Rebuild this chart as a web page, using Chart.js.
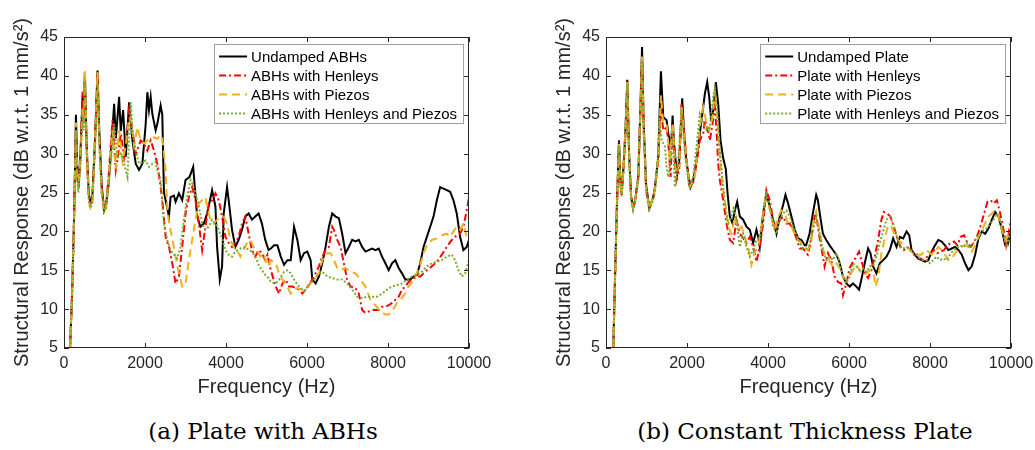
<!DOCTYPE html>
<html>
<head>
<meta charset="utf-8">
<script src="https://cdn.jsdelivr.net/npm/chart.js@4.4.1/dist/chart.umd.min.js"></script>
<style>
  body { margin: 0; background: #fff; width: 1035px; height: 450px; position: relative; overflow: hidden; }
  canvas { position: absolute; top: 0; }
  .caption { position: absolute; top: 418px; font: 23px "DejaVu Serif", "Liberation Serif", serif; color: #000; text-align: center; white-space: nowrap; }
</style>
</head>
<body>
<canvas id="abhChart" width="517" height="400" style="left:0px"></canvas>
<canvas id="plateChart" width="517" height="400" style="left:542px"></canvas>
<div class="caption" style="left:83px; width:360px">(a) Plate with ABHs</div>
<div class="caption" style="left:605px; width:400px">(b) Constant Thickness Plate</div>
<script>
// frequency (Hz), response (dB) pairs
const abhUndamped = [[150,5],[200,12],[250,22],[295,35],[330,28],[355,25.7],[400,29],[460,37.5],[490,34],[515,40.5],[560,31],[610,25],[650,23.6],[700,24.5],[760,31],[828,40.7],[870,33],[930,26],[990,22.7],[1040,23.5],[1100,26],[1156,30],[1238,36.4],[1280,32],[1361,37.3],[1400,32.9],[1460,35.6],[1525,29.6],[1607,36.6],[1690,31.7],[1771,28.7],[1853,27.9],[1935,28.7],[2017,33.8],[2058,37.9],[2099,35.6],[2140,37.3],[2181,35.1],[2263,33],[2304,33.8],[2386,36.2],[2427,35],[2468,25],[2509,24],[2591,21.9],[2632,24.4],[2714,24.6],[2755,23.8],[2837,24.9],[2919,24],[3001,26.6],[3100,27],[3190,28.3],[3240,25],[3288,21.9],[3370,20.6],[3452,21],[3534,22.3],[3657,25.3],[3739,23.2],[3780,18],[3846,13.8],[3903,15.5],[3944,22.3],[4026,25.7],[4067,24],[4149,20.2],[4231,18],[4313,18.9],[4395,20.2],[4477,21.9],[4559,22.3],[4641,21.5],[4723,21.9],[4805,22.3],[4887,21],[4969,18.9],[5051,17.6],[5107,17.8],[5188,18.2],[5270,18.2],[5352,16.75],[5434,15.7],[5516,16.3],[5598,16.3],[5680,20.6],[5762,18.9],[5844,16.3],[5926,17.2],[6008,17.4],[6090,16.3],[6131,13.8],[6213,13.3],[6295,14.2],[6377,15.9],[6459,18],[6541,20.6],[6623,22.3],[6705,21.9],[6787,21.7],[6869,19.7],[6951,17.2],[7033,18],[7115,18.9],[7197,18.7],[7279,18.9],[7361,18],[7443,17.4],[7525,17.6],[7607,17.8],[7689,17.6],[7771,17.8],[7853,16.75],[7935,15.9],[8017,15],[8099,15.9],[8181,16.3],[8263,15.3],[8345,14.6],[8427,13.8],[8550,13.8],[8632,14.2],[8714,14.4],[8796,15.9],[8878,18],[8960,19.3],[9042,20.6],[9124,21.9],[9206,24],[9288,25.7],[9370,25.5],[9452,25.3],[9534,25.1],[9616,24],[9698,22.3],[9780,19.3],[9862,17.6],[9944,18],[10000,18.9]];
const abhHenleys = [[150,5],[200,12],[250,22],[295,33.5],[330,27],[355,25.5],[400,29],[460,38],[490,34],[515,40],[560,30],[610,24.5],[650,23.5],[700,24],[760,31],[828,40.3],[870,32],[930,25.5],[990,23],[1040,23.5],[1100,27],[1197,34.3],[1279,27.9],[1340,30],[1402,32.6],[1484,29.6],[1566,33],[1607,35.6],[1689,33],[1771,29.9],[1894,31.7],[1976,31.3],[2058,30.4],[2140,31.7],[2222,30.4],[2304,28.7],[2386,25.7],[2427,24],[2509,19.3],[2591,18],[2673,15.9],[2755,13.3],[2837,14.2],[2919,18],[3001,22.3],[3083,24.4],[3165,25.7],[3247,24],[3329,21],[3411,17.6],[3493,20.6],[3575,23.6],[3657,24],[3739,24.9],[3821,24],[3903,21.9],[3985,19.3],[4067,18.5],[4149,18],[4231,18.5],[4313,19.3],[4395,21],[4477,21.9],[4559,19.7],[4641,17.6],[4723,16.75],[4805,17.6],[4887,17.2],[4969,16.3],[5025,17],[5107,15],[5229,12.9],[5311,12],[5393,13.3],[5475,13.8],[5557,12.9],[5639,12.9],[5721,12.7],[5803,12.5],[5885,12],[5967,12.5],[6049,13.1],[6172,14.2],[6295,15.5],[6377,16.75],[6459,17.6],[6541,18],[6623,20.6],[6664,20.2],[6746,18.9],[6828,18],[6910,15.9],[6992,13.8],[7074,12.9],[7197,12.7],[7279,12],[7361,9.9],[7443,9.5],[7525,9.7],[7648,9.9],[7771,9.9],[7853,10.3],[7935,10.3],[8017,10.5],[8099,10.8],[8181,11.2],[8263,11.6],[8345,12.5],[8427,12.9],[8509,13.5],[8591,13.8],[8714,14.2],[8796,14.2],[8878,14.6],[8960,15],[9083,15.5],[9206,16.1],[9329,17],[9452,18],[9575,18.9],[9698,19.5],[9780,19.7],[9862,20.6],[9944,22.7],[10000,24.4]];
const abhPiezos = [[150,5],[200,12],[250,22],[295,34],[330,27],[355,25.5],[400,29],[460,36],[490,34],[517,40.7],[560,31],[610,24],[650,23],[700,23.5],[760,31],[828,40.5],[870,32],[930,25],[990,22.5],[1040,23],[1100,26.5],[1197,33],[1279,28],[1361,33],[1443,29],[1525,31],[1607,34.5],[1648,34.7],[1730,31],[1812,33.4],[1894,31.7],[1976,31.3],[2099,31.9],[2222,32.1],[2304,31.9],[2386,32.4],[2427,32.1],[2509,27.9],[2550,23],[2591,21.2],[2673,19.1],[2755,16.75],[2837,14.6],[2919,12.9],[3001,13.3],[3083,16.3],[3165,18.9],[3247,21.5],[3329,23.6],[3411,24],[3493,24.4],[3534,23.2],[3616,21.5],[3698,21],[3780,21.5],[3862,21.7],[3944,21.9],[4026,21],[4108,18.9],[4190,18],[4272,17.6],[4354,16.75],[4436,17.6],[4518,18.5],[4600,18.9],[4682,18],[4764,17.6],[4846,16.75],[4928,17.2],[5025,15.5],[5107,16.3],[5229,15.9],[5311,14.6],[5393,13.8],[5475,13.3],[5598,12],[5680,12.5],[5762,12.7],[5885,12.5],[5967,12.9],[6049,13.1],[6172,13.8],[6295,14.6],[6377,16.3],[6500,17.2],[6582,17.2],[6664,16.3],[6746,15.3],[6828,15],[6951,15.3],[7074,14.8],[7197,14.6],[7320,13.8],[7443,12.9],[7566,11.2],[7689,10.5],[7812,9.7],[7935,9.3],[8017,9.3],[8099,9.7],[8222,10.8],[8304,11.2],[8427,12],[8509,12.9],[8591,13.5],[8673,14.2],[8796,15.7],[8878,17.2],[8960,18.2],[9083,18.9],[9206,19.1],[9329,19.5],[9452,19.7],[9534,19.3],[9616,20],[9698,20.6],[9780,20.2],[9862,21],[9944,19.3],[10000,19.7]];
const abhBoth = [[150,5],[200,12],[250,21],[295,33],[330,26.5],[355,25],[400,28],[460,35],[490,33],[517,39.4],[560,30],[610,24],[650,23],[700,23.5],[760,30],[828,39],[870,31],[930,25],[990,22.5],[1040,23],[1100,26],[1156,29],[1238,33.8],[1320,29.4],[1402,30],[1484,28.7],[1566,27],[1648,36.6],[1689,33],[1771,30.4],[1853,28.7],[1935,28.9],[2017,29.1],[2099,28.3],[2181,28.7],[2263,28.9],[2304,27.9],[2386,26.6],[2468,21],[2550,18.9],[2632,17.6],[2714,17],[2796,16.5],[2878,18],[2960,21.5],[3042,24.4],[3124,26.6],[3165,26.2],[3247,24.9],[3329,23.2],[3411,21],[3493,20.2],[3575,20.6],[3657,21.5],[3739,21],[3821,20.2],[3903,19.1],[3985,17.6],[4067,17],[4149,16.75],[4231,17.4],[4354,17.8],[4477,18],[4559,17.6],[4641,17.4],[4723,16.75],[4805,15.7],[4887,15],[4969,14.4],[5050,14],[5107,13.5],[5229,13.3],[5311,13.8],[5434,14.8],[5516,15],[5598,14.6],[5680,13.8],[5803,12.9],[5926,12.3],[6049,13.1],[6172,13.8],[6295,14.6],[6377,14.8],[6500,14.2],[6623,14],[6746,13.8],[6869,13.8],[6992,13.3],[7115,12.5],[7238,11.6],[7361,11.4],[7484,11.6],[7607,11.6],[7730,11.6],[7853,12],[7976,12.5],[8099,12.9],[8222,13.1],[8345,13.3],[8468,13.8],[8591,14.2],[8714,14.4],[8837,14.8],[8960,15.5],[9083,15.9],[9206,16.1],[9329,16.3],[9452,16.75],[9575,17],[9657,16.3],[9739,15],[9821,14.2],[9903,14.6],[10000,16.3]];

const plateUndamped = [[180,5],[222,13.8],[263,22.3],[320,31.7],[360,26],[386,24.9],[430,28],[480,33],[526,39.5],[570,30],[620,24.5],[670,23],[720,24],[797,27],[850,36],[890,43.7],[930,34],[990,26],[1069,23],[1167,24.4],[1208,25.7],[1290,29.6],[1356,40.6],[1414,34.7],[1455,34.5],[1496,34.3],[1537,32.6],[1578,31.5],[1619,32],[1644,34.9],[1677,31.5],[1726,28.7],[1759,27.4],[1808,29.1],[1882,37.1],[1923,33],[1973,29.6],[2030,27.4],[2088,25.7],[2154,26.6],[2236,29.1],[2318,32.6],[2400,36],[2441,37.7],[2499,39.2],[2548,37.3],[2589,34.7],[2647,35.5],[2713,39.2],[2770,36.4],[2828,31.7],[2894,29.4],[2959,28],[3000,25],[3058,21.9],[3124,21],[3181,22.7],[3239,23.8],[3305,21.9],[3387,21.5],[3469,20.6],[3551,20.2],[3633,18.5],[3715,20.2],[3756,19.3],[3797,18],[3880,22.3],[3962,24.9],[4044,23.2],[4126,21.5],[4209,19.7],[4291,21.9],[4373,23.4],[4431,24.7],[4496,23.6],[4579,21.9],[4661,20.2],[4743,19.1],[4825,18.9],[4907,18.2],[4942,18.2],[5025,19.7],[5108,22.3],[5190,24.7],[5232,24],[5290,21.9],[5356,19.7],[5438,18.9],[5521,18.2],[5603,17.6],[5686,17],[5768,16],[5851,14.2],[5934,13.3],[6017,12.9],[6099,13.3],[6182,12.9],[6248,12.5],[6306,13.8],[6388,15.9],[6471,17.8],[6529,17.2],[6595,15.5],[6677,14.6],[6760,15.9],[6843,16.3],[6925,16.75],[7008,17.6],[7090,19.1],[7173,18],[7256,19.3],[7338,19.1],[7421,20],[7487,19.5],[7545,17.6],[7628,17],[7710,16.5],[7793,16.3],[7875,16.1],[7958,16.3],[8040,17.4],[8123,18.2],[8205,18.9],[8288,18.7],[8371,18.2],[8453,17.6],[8536,17.8],[8618,18],[8701,17.6],[8784,17],[8866,15.9],[8949,15],[9031,15.5],[9114,17],[9197,19.1],[9279,20],[9362,19.7],[9444,20.4],[9527,21.5],[9610,22.5],[9692,21.9],[9775,20.2],[9858,18.2],[9916,18.2],[10000,20.2]];
const plateHenleys = [[180,5],[222,13.8],[263,22],[320,31.5],[360,26],[386,24.7],[430,28],[480,32.5],[526,39],[570,30],[620,24.3],[670,23],[720,24],[797,27],[850,35.5],[890,42.4],[930,33],[990,25.5],[1069,23],[1167,24.4],[1208,25.5],[1290,29],[1356,36],[1414,33],[1496,33.4],[1537,31.7],[1595,27],[1644,33.6],[1701,28.7],[1742,26.6],[1808,27.9],[1866,36.4],[1907,34.3],[1973,30],[2055,25.7],[2154,26.3],[2236,28.7],[2318,31.7],[2400,32.6],[2441,34.3],[2499,33.4],[2565,31.7],[2630,33.8],[2688,36],[2729,33],[2770,28.7],[2811,26.6],[2894,24],[2976,21],[3058,18.9],[3140,18.5],[3222,21.5],[3305,19.7],[3387,19.1],[3469,18.5],[3551,19.3],[3633,18],[3715,16.1],[3797,18],[3880,21],[3962,25.3],[4044,24],[4126,21.5],[4209,20.2],[4291,21.5],[4373,21.9],[4455,21],[4537,21],[4620,20.2],[4702,19.1],[4784,17.8],[4866,17.8],[4948,17.2],[4984,17],[5066,18.9],[5149,21.9],[5190,22.3],[5256,19.7],[5314,18],[5397,15.5],[5480,17.2],[5562,16.3],[5645,14.2],[5727,13.5],[5810,13.3],[5851,11.8],[5934,13.3],[6017,15.3],[6099,16.1],[6182,16.75],[6248,17.4],[6306,16.3],[6388,14.6],[6471,14],[6553,15],[6636,16.75],[6719,18.9],[6801,21.5],[6859,22.5],[6942,22.3],[7024,21.9],[7107,20.6],[7189,19.1],[7272,18],[7355,17.6],[7437,18],[7520,17.6],[7602,17],[7685,16.75],[7768,16.5],[7850,16.3],[7933,16.75],[8016,17.2],[8098,17.6],[8181,17.2],[8263,17.4],[8346,17.6],[8428,18.2],[8511,18.5],[8594,18.7],[8676,18.2],[8759,19.3],[8841,19.5],[8924,18.5],[9007,18],[9089,18.7],[9172,19.5],[9254,20.8],[9337,22.3],[9420,23.8],[9502,24],[9568,23.6],[9651,24],[9734,22.3],[9816,20.2],[9882,18.2],[9940,19.7],[10000,21.5]];
const platePiezos = [[180,5],[222,13.8],[263,22],[320,31.5],[360,26],[386,24.7],[430,28],[480,33],[526,39.3],[570,30],[620,24.3],[670,23],[720,24],[797,27],[850,36],[890,42.5],[930,33.5],[990,25.5],[1069,23],[1167,24.4],[1208,25.5],[1290,29.5],[1356,37.5],[1414,34],[1496,33.8],[1578,29],[1644,34],[1726,27.4],[1808,28.5],[1866,36],[1990,29],[2071,25.7],[2194,27],[2318,33.4],[2400,36],[2466,34.3],[2548,33],[2630,34.7],[2688,38.1],[2746,34.7],[2811,29.6],[2894,25.3],[2935,24],[3017,20.6],[3099,19.7],[3181,21.9],[3264,20.2],[3346,20.6],[3428,19.3],[3510,18],[3592,15.7],[3674,17.4],[3756,18],[3838,20.6],[3921,24],[4003,23.6],[4085,21.9],[4167,20.2],[4250,21.9],[4332,22.7],[4414,22.3],[4496,21],[4579,20.6],[4661,19.7],[4743,18.9],[4825,18.5],[4907,18],[4984,17.6],[5066,18.5],[5108,21],[5190,22.5],[5273,20.2],[5356,17.6],[5438,16.75],[5521,16.1],[5603,15.5],[5686,15.9],[5768,15.3],[5851,14.2],[5934,13.8],[6017,14.4],[6099,15],[6182,15.7],[6265,15],[6347,14.4],[6430,14.6],[6512,15],[6595,14.8],[6661,12.9],[6719,14],[6801,17.2],[6884,19.1],[6966,20.8],[7049,20.6],[7132,19.5],[7214,18.9],[7297,18.5],[7380,18.3],[7462,17.8],[7545,17.4],[7627,17.2],[7710,17],[7793,17],[7875,17.6],[7958,17.4],[8040,17],[8123,17.4],[8205,18],[8288,17.6],[8371,17],[8453,16.3],[8536,16.5],[8618,17.2],[8701,17.6],[8784,18],[8866,18.2],[8949,18],[9031,17.4],[9114,18.2],[9197,19.3],[9279,20.2],[9362,21],[9444,21.9],[9527,22.3],[9610,22.7],[9692,21.9],[9775,20.2],[9858,18.9],[9940,19.7],[10000,20.6]];
const plateBoth = [[180,5],[222,13.5],[263,21.5],[320,31],[360,25.8],[386,24.5],[430,27.5],[480,32.5],[526,39],[570,29.5],[620,24],[670,22.7],[720,23.8],[797,26.5],[850,35],[890,42],[930,33],[990,25],[1069,22.8],[1167,24],[1208,25],[1290,30],[1315,34.7],[1374,31.7],[1455,30.9],[1496,28.3],[1537,27],[1578,28.7],[1644,33],[1701,25.7],[1759,27.4],[1866,35.6],[1948,30],[2055,25.7],[2154,27],[2236,30.9],[2318,35.1],[2400,34.3],[2482,33],[2565,33.4],[2647,37.3],[2688,38.3],[2746,35.6],[2811,30.4],[2894,25.7],[2935,23.6],[3017,21],[3099,21.9],[3157,23.2],[3222,21.5],[3305,18],[3387,19.7],[3469,18],[3551,16.75],[3633,17.6],[3715,18.9],[3797,19.3],[3880,22.3],[3962,24.7],[4044,23.2],[4126,20.6],[4209,19.7],[4291,21.5],[4373,22.3],[4455,22.7],[4537,21.9],[4620,20.6],[4702,19.5],[4784,18.5],[4866,17.8],[4948,17.8],[5025,18.2],[5108,20.2],[5190,21.7],[5273,19.7],[5356,17.6],[5438,16.3],[5521,16.75],[5603,16.3],[5686,17.2],[5768,16],[5851,14.2],[5934,13.3],[6017,14.2],[6099,15.9],[6182,15.5],[6265,15],[6347,15.2],[6430,14.8],[6512,15.5],[6595,15.5],[6677,16.75],[6760,18.5],[6843,20],[6925,21.5],[7008,21.9],[7090,21],[7173,19.5],[7256,18],[7338,17.8],[7421,18],[7503,17.6],[7586,17.2],[7669,17],[7751,16.5],[7834,16.3],[7916,16.3],[7999,15.9],[8081,16.3],[8164,16.75],[8247,16.3],[8329,16.5],[8412,16.3],[8494,17],[8577,17.6],[8659,17.8],[8742,18.2],[8825,18],[8908,18.5],[8990,17.8],[9073,18.5],[9155,19.3],[9238,19.7],[9320,20.2],[9403,20.4],[9486,21],[9568,21.5],[9651,22.3],[9734,21.5],[9816,19.5],[9899,18],[9957,19.1],[10000,20.2]];

const abhLabels = ['Undamped ABHs', 'ABHs with Henleys', 'ABHs with Piezos', 'ABHs with Henleys and Piezos'];
const plateLabels = ['Undamped Plate', 'Plate with Henleys', 'Plate with Piezos', 'Plate with Henleys and Piezos'];
const xTicks = [0, 2000, 4000, 6000, 8000, 10000];
const yTicks = [5, 10, 15, 20, 25, 30, 35, 40, 45];

const seriesStyle = [
    { borderColor: '#000000', borderWidth: 2, borderDash: [], order: 4 },
    { borderColor: '#ff0000', borderWidth: 2, borderDash: [7, 3, 2, 3], order: 3 },
    { borderColor: '#edb120', borderWidth: 2, borderDash: [8, 5], order: 2 },
    { borderColor: '#77ac30', borderWidth: 2, borderDash: [2, 2], order: 1 }
];

const axisColor = '#262626';
const sansFont = '"Liberation Sans", Arial, Helvetica, sans-serif';

// MATLAB-like box with inward ticks on every side
const boxTicks = {
    id: 'boxTicks',
    afterDraw(chart) {
        const { ctx, chartArea: a, scales: { x, y } } = chart;
        ctx.save();
        ctx.strokeStyle = axisColor;
        ctx.lineWidth = 1;
        ctx.strokeRect(a.left + 0.5, a.top + 0.5, a.right - a.left - 1, a.bottom - a.top - 1);
        ctx.beginPath();
        xTicks.forEach(v => {
            const px = Math.round(x.getPixelForValue(v)) + 0.5;
            ctx.moveTo(px, a.bottom); ctx.lineTo(px, a.bottom - 5);
            ctx.moveTo(px, a.top); ctx.lineTo(px, a.top + 5);
        });
        yTicks.forEach(v => {
            const py = Math.round(y.getPixelForValue(v)) + 0.5;
            ctx.moveTo(a.left, py); ctx.lineTo(a.left + 5, py);
            ctx.moveTo(a.right, py); ctx.lineTo(a.right - 5, py);
        });
        ctx.stroke();
        ctx.restore();
    }
};

// legend box in the top right corner, with line samples
const boxLegend = {
    id: 'boxLegend',
    afterDatasetsDraw(chart) {
        const { ctx, chartArea: a } = chart;
        const sets = chart.data.datasets;
        ctx.save();
        ctx.font = '15px ' + sansFont;
        const textW = Math.max(...sets.map(d => ctx.measureText(d.label).width));
        const w = 5 + 28 + 4 + textW + 6;
        const h = sets.length * 19 + 3;
        const x0 = a.right - 6 - w;
        const y0 = a.top + 7;
        ctx.fillStyle = '#fff';
        ctx.fillRect(x0, y0, w, h);
        ctx.strokeStyle = '#a0a0a0';
        ctx.lineWidth = 1;
        ctx.strokeRect(Math.round(x0) + 0.5, y0 + 0.5, Math.round(w), h);
        sets.forEach((d, i) => {
            const cy = y0 + 12.5 + i * 19;
            ctx.setLineDash(d.borderDash);
            ctx.strokeStyle = d.borderColor;
            ctx.lineWidth = d.borderWidth;
            ctx.beginPath();
            ctx.moveTo(x0 + 5, cy);
            ctx.lineTo(x0 + 33, cy);
            ctx.stroke();
            ctx.setLineDash([]);
            ctx.fillStyle = '#000';
            ctx.textBaseline = 'middle';
            ctx.fillText(d.label, x0 + 37, cy + 1);
        });
        ctx.restore();
    }
};

function makeChart(id, labels, series) {
    const ctx = document.getElementById(id).getContext('2d');
    return new Chart(ctx, {
        type: 'line',
        data: {
            datasets: series.map((s, i) => ({
                label: labels[i],
                data: s.map(p => ({ x: p[0], y: p[1] })),
                borderColor: seriesStyle[i].borderColor,
                borderWidth: seriesStyle[i].borderWidth,
                borderDash: seriesStyle[i].borderDash,
                order: seriesStyle[i].order,
                pointRadius: 0,
                tension: 0,
                fill: false
            }))
        },
        options: {
            responsive: false,
            animation: false,
            layout: { padding: { top: 37, right: 48, left: 0, bottom: 0 } },
            plugins: { legend: { display: false }, tooltip: { enabled: false } },
            scales: {
                x: {
                    type: 'linear',
                    min: 0,
                    max: 10000,
                    afterBuildTicks: s => { s.ticks = xTicks.map(v => ({ value: v })); },
                    afterFit: s => { s.height = 52; },
                    grid: { display: false, drawTicks: false },
                    border: { display: false },
                    ticks: { color: axisColor, font: { family: sansFont, size: 16 }, padding: 6, maxRotation: 0, callback: v => String(v) },
                    title: { display: true, text: 'Frequency (Hz)', color: axisColor, font: { family: sansFont, size: 20 }, padding: { top: 0, bottom: 1 } }
                },
                y: {
                    min: 5,
                    max: 45,
                    afterBuildTicks: s => { s.ticks = yTicks.map(v => ({ value: v })); },
                    afterFit: s => { s.width = 64; },
                    grid: { display: false, drawTicks: false },
                    border: { display: false },
                    ticks: { color: axisColor, font: { family: sansFont, size: 16 }, padding: 6, callback: v => String(v) },
                    title: { display: true, text: 'Structural Response (dB w.r.t. 1 mm/s²)', color: axisColor, font: { family: sansFont, size: 20 }, padding: { top: 10, bottom: 0 } }
                }
            }
        },
        plugins: [boxLegend, boxTicks]
    });
}

makeChart('abhChart', abhLabels, [abhUndamped, abhHenleys, abhPiezos, abhBoth]);
makeChart('plateChart', plateLabels, [plateUndamped, plateHenleys, platePiezos, plateBoth]);
</script>
</body>
</html>
